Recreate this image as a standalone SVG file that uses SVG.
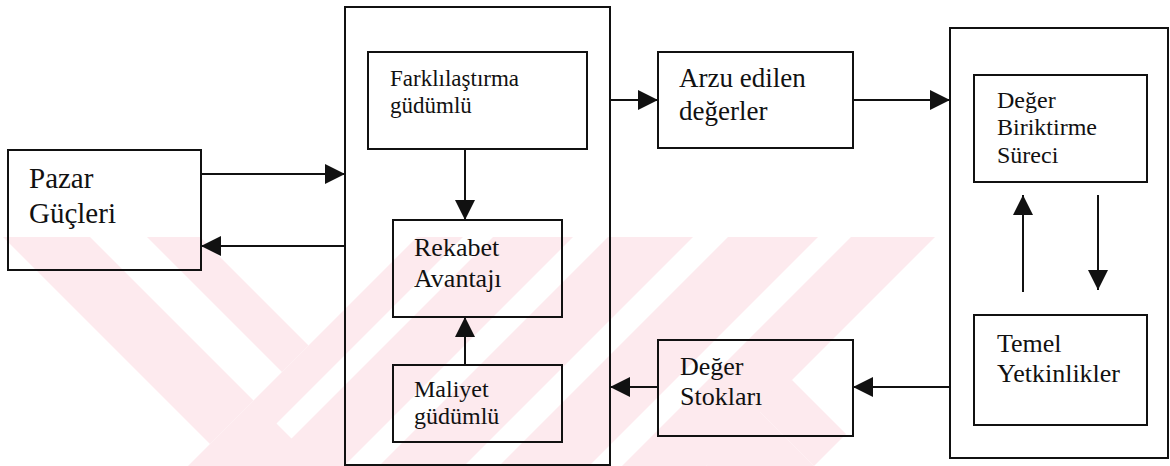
<svg xmlns="http://www.w3.org/2000/svg" width="1170" height="466" viewBox="0 0 1170 466">
  <style>
    .box { fill: none; stroke: #111; stroke-width: 2; }
    .wire { fill: none; stroke: #111; stroke-width: 2; }
    text { font-family: 'Liberation Serif', 'Times New Roman', 'DejaVu Serif', serif; fill: #111; }
    .wm { fill: #fdeaee; }
    .gap { fill: #fff; }
  </style>
  <defs>
    <marker id="head" markerUnits="userSpaceOnUse" markerWidth="20" markerHeight="20" refX="20" refY="10" orient="auto">
      <path d="M0,0 L20,10 L0,20 z" fill="#111"/>
    </marker>
    <clipPath id="wmArea">
      <rect x="0" y="237" width="1170" height="229"/>
    </clipPath>
  </defs>
  <rect width="1170" height="466" fill="#fff"/>

  <!-- background mark: diagonal bands -->
  <g id="watermark" clip-path="url(#wmArea)">
    <!-- descending bands on the left, cut off along x+y=654 -->
    <polygon class="wm" points="3,237 90,237 253.5,400.5 210,444"/>
    <polygon class="wm" points="147,237 200,237 308.5,345.5 282,372"/>
    <!-- rising bands -->
    <polygon class="wm" points="654,0 810,0 344,466 188,466"/>
    <polygon class="gap" points="463,237 493,237 291.5,438.5 276.5,423.5"/>
    <polygon class="wm" points="845,0 930,0 464,466 379,466"/>
    <polygon class="wm" points="965,0 1055,0 589,466 499,466"/>
    <polygon class="wm" points="1088,0 1172,0 792,380 706,466 622,466"/>
    <!-- descending band below the notch -->
    <polygon class="wm" points="792,380 846,434 814,466 751,403"/>
    <polygon class="wm" points="751,403 814,466 706,466"/>
  </g>

  <g id="connectors">
    <line class="wire" x1="201" y1="174" x2="345" y2="174" marker-end="url(#head)"/>
    <line class="wire" x1="345" y1="246" x2="201" y2="246" marker-end="url(#head)"/>
    <line class="wire" x1="465" y1="149" x2="465" y2="220" marker-end="url(#head)"/>
    <line class="wire" x1="465" y1="365" x2="465" y2="317" marker-end="url(#head)"/>
    <line class="wire" x1="610" y1="100" x2="658" y2="100" marker-end="url(#head)"/>
    <line class="wire" x1="853" y1="100" x2="950" y2="100" marker-end="url(#head)"/>
    <line class="wire" x1="1023" y1="292" x2="1023" y2="195" marker-end="url(#head)"/>
    <line class="wire" x1="1098" y1="195" x2="1098" y2="290" marker-end="url(#head)"/>
    <line class="wire" x1="950" y1="387" x2="853" y2="387" marker-end="url(#head)"/>
    <line class="wire" x1="658" y1="387" x2="610" y2="387" marker-end="url(#head)"/>
  </g>

  <g id="pazar">
    <rect class="box" x="8" y="150" width="193" height="120"/>
    <text font-size="29" x="29" y="188">Pazar</text>
    <text font-size="29" x="29" y="223">Güçleri</text>
  </g>

  <g id="strateji">
    <rect class="box" x="345" y="7" width="265" height="458"/>
  </g>

  <g id="farklilastirma">
    <rect class="box" x="368" y="52" width="219" height="97"/>
    <text font-size="23" x="390" y="86">Farklılaştırma</text>
    <text font-size="23" x="390" y="113">güdümlü</text>
  </g>

  <g id="rekabet">
    <rect class="box" x="393" y="220" width="169" height="97"/>
    <text font-size="26" x="414" y="256">Rekabet</text>
    <text font-size="26" x="414" y="287">Avantajı</text>
  </g>

  <g id="maliyet">
    <rect class="box" x="393" y="365" width="169" height="77"/>
    <text font-size="24" x="414" y="397">Maliyet</text>
    <text font-size="24" x="414" y="424">güdümlü</text>
  </g>

  <g id="arzu">
    <rect class="box" x="658" y="52" width="195" height="96"/>
    <text font-size="27" x="679" y="87">Arzu edilen</text>
    <text font-size="27" x="679" y="120">değerler</text>
  </g>

  <g id="stoklar">
    <rect class="box" x="658" y="340" width="195" height="96"/>
    <text font-size="26" x="680" y="375">Değer</text>
    <text font-size="26" x="680" y="405">Stokları</text>
  </g>

  <g id="kaynaklar">
    <rect class="box" x="950" y="28" width="218" height="430"/>
  </g>

  <g id="biriktirme">
    <rect class="box" x="974" y="75" width="173" height="107"/>
    <text font-size="24" x="997" y="108">Değer</text>
    <text font-size="24" x="997" y="135">Biriktirme</text>
    <text font-size="24" x="997" y="163">Süreci</text>
  </g>

  <g id="yetkinlikler">
    <rect class="box" x="974" y="315" width="173" height="110"/>
    <text font-size="26" x="997" y="352">Temel</text>
    <text font-size="26" x="997" y="382">Yetkinlikler</text>
  </g>
</svg>
